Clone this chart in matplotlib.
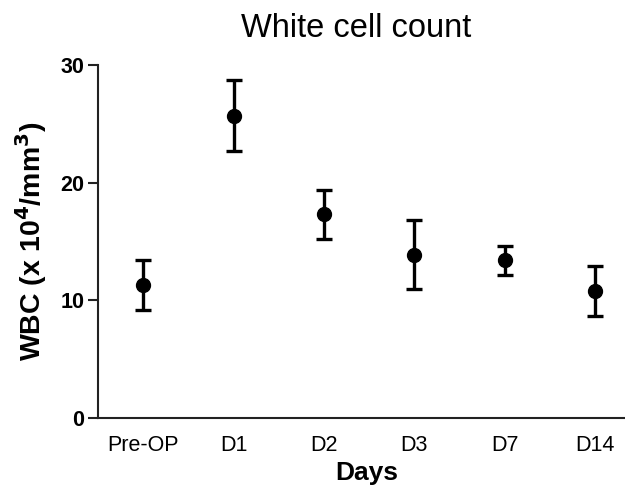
import matplotlib
matplotlib.use('Agg')
import matplotlib.pyplot as plt
import numpy as np

plt.rcParams['font.family'] = ['Liberation Sans', 'DejaVu Sans']

days = ['Pre-OP', 'D1', 'D2', 'D3', 'D7', 'D14']
wbc_mean = [11.3, 25.7, 17.3, 13.9, 13.4, 10.8]
wbc_err = [2.1, 3.0, 2.1, 2.9, 1.2, 2.1]
y_ticks = [0, 10, 20, 30]

fig = plt.figure(figsize=(6.25, 4.95), dpi=100)
ax = fig.add_axes([0.157, 0.155, 0.86, 0.714])

x = np.arange(len(days))
ax.errorbar(x, wbc_mean, yerr=wbc_err, fmt='o', color='black', ecolor='black',
            markersize=10, elinewidth=2.4, capsize=6, capthick=2.4)

ax.set_xlim(-0.5, 5.45)
ax.set_ylim(0, 30)
ax.set_yticks(y_ticks)
ax.set_xticks(x, days)

ax.spines['right'].set_visible(False)
ax.spines['top'].set_visible(False)
for s in ('left', 'bottom'):
    ax.spines[s].set_linewidth(1.5)
    ax.spines[s].set_color('#222222')

ax.tick_params(axis='y', length=7, width=1.5, color='#222222', labelsize=15.5, pad=3)
ax.tick_params(axis='x', length=0, labelsize=15.5, pad=12)
for lbl in ax.get_yticklabels():
    lbl.set_fontweight('bold')

ax.set_title('White cell count', fontsize=23.5, pad=20, x=0.48)
ax.set_ylabel(r'WBC (x 10$^\mathbf{4}$/mm$^\mathbf{3}$)', fontsize=20.5, fontweight='bold', labelpad=8)
ax.set_xlabel('Days', fontsize=19, fontweight='bold', labelpad=4)

plt.savefig('out.png', dpi=100)
